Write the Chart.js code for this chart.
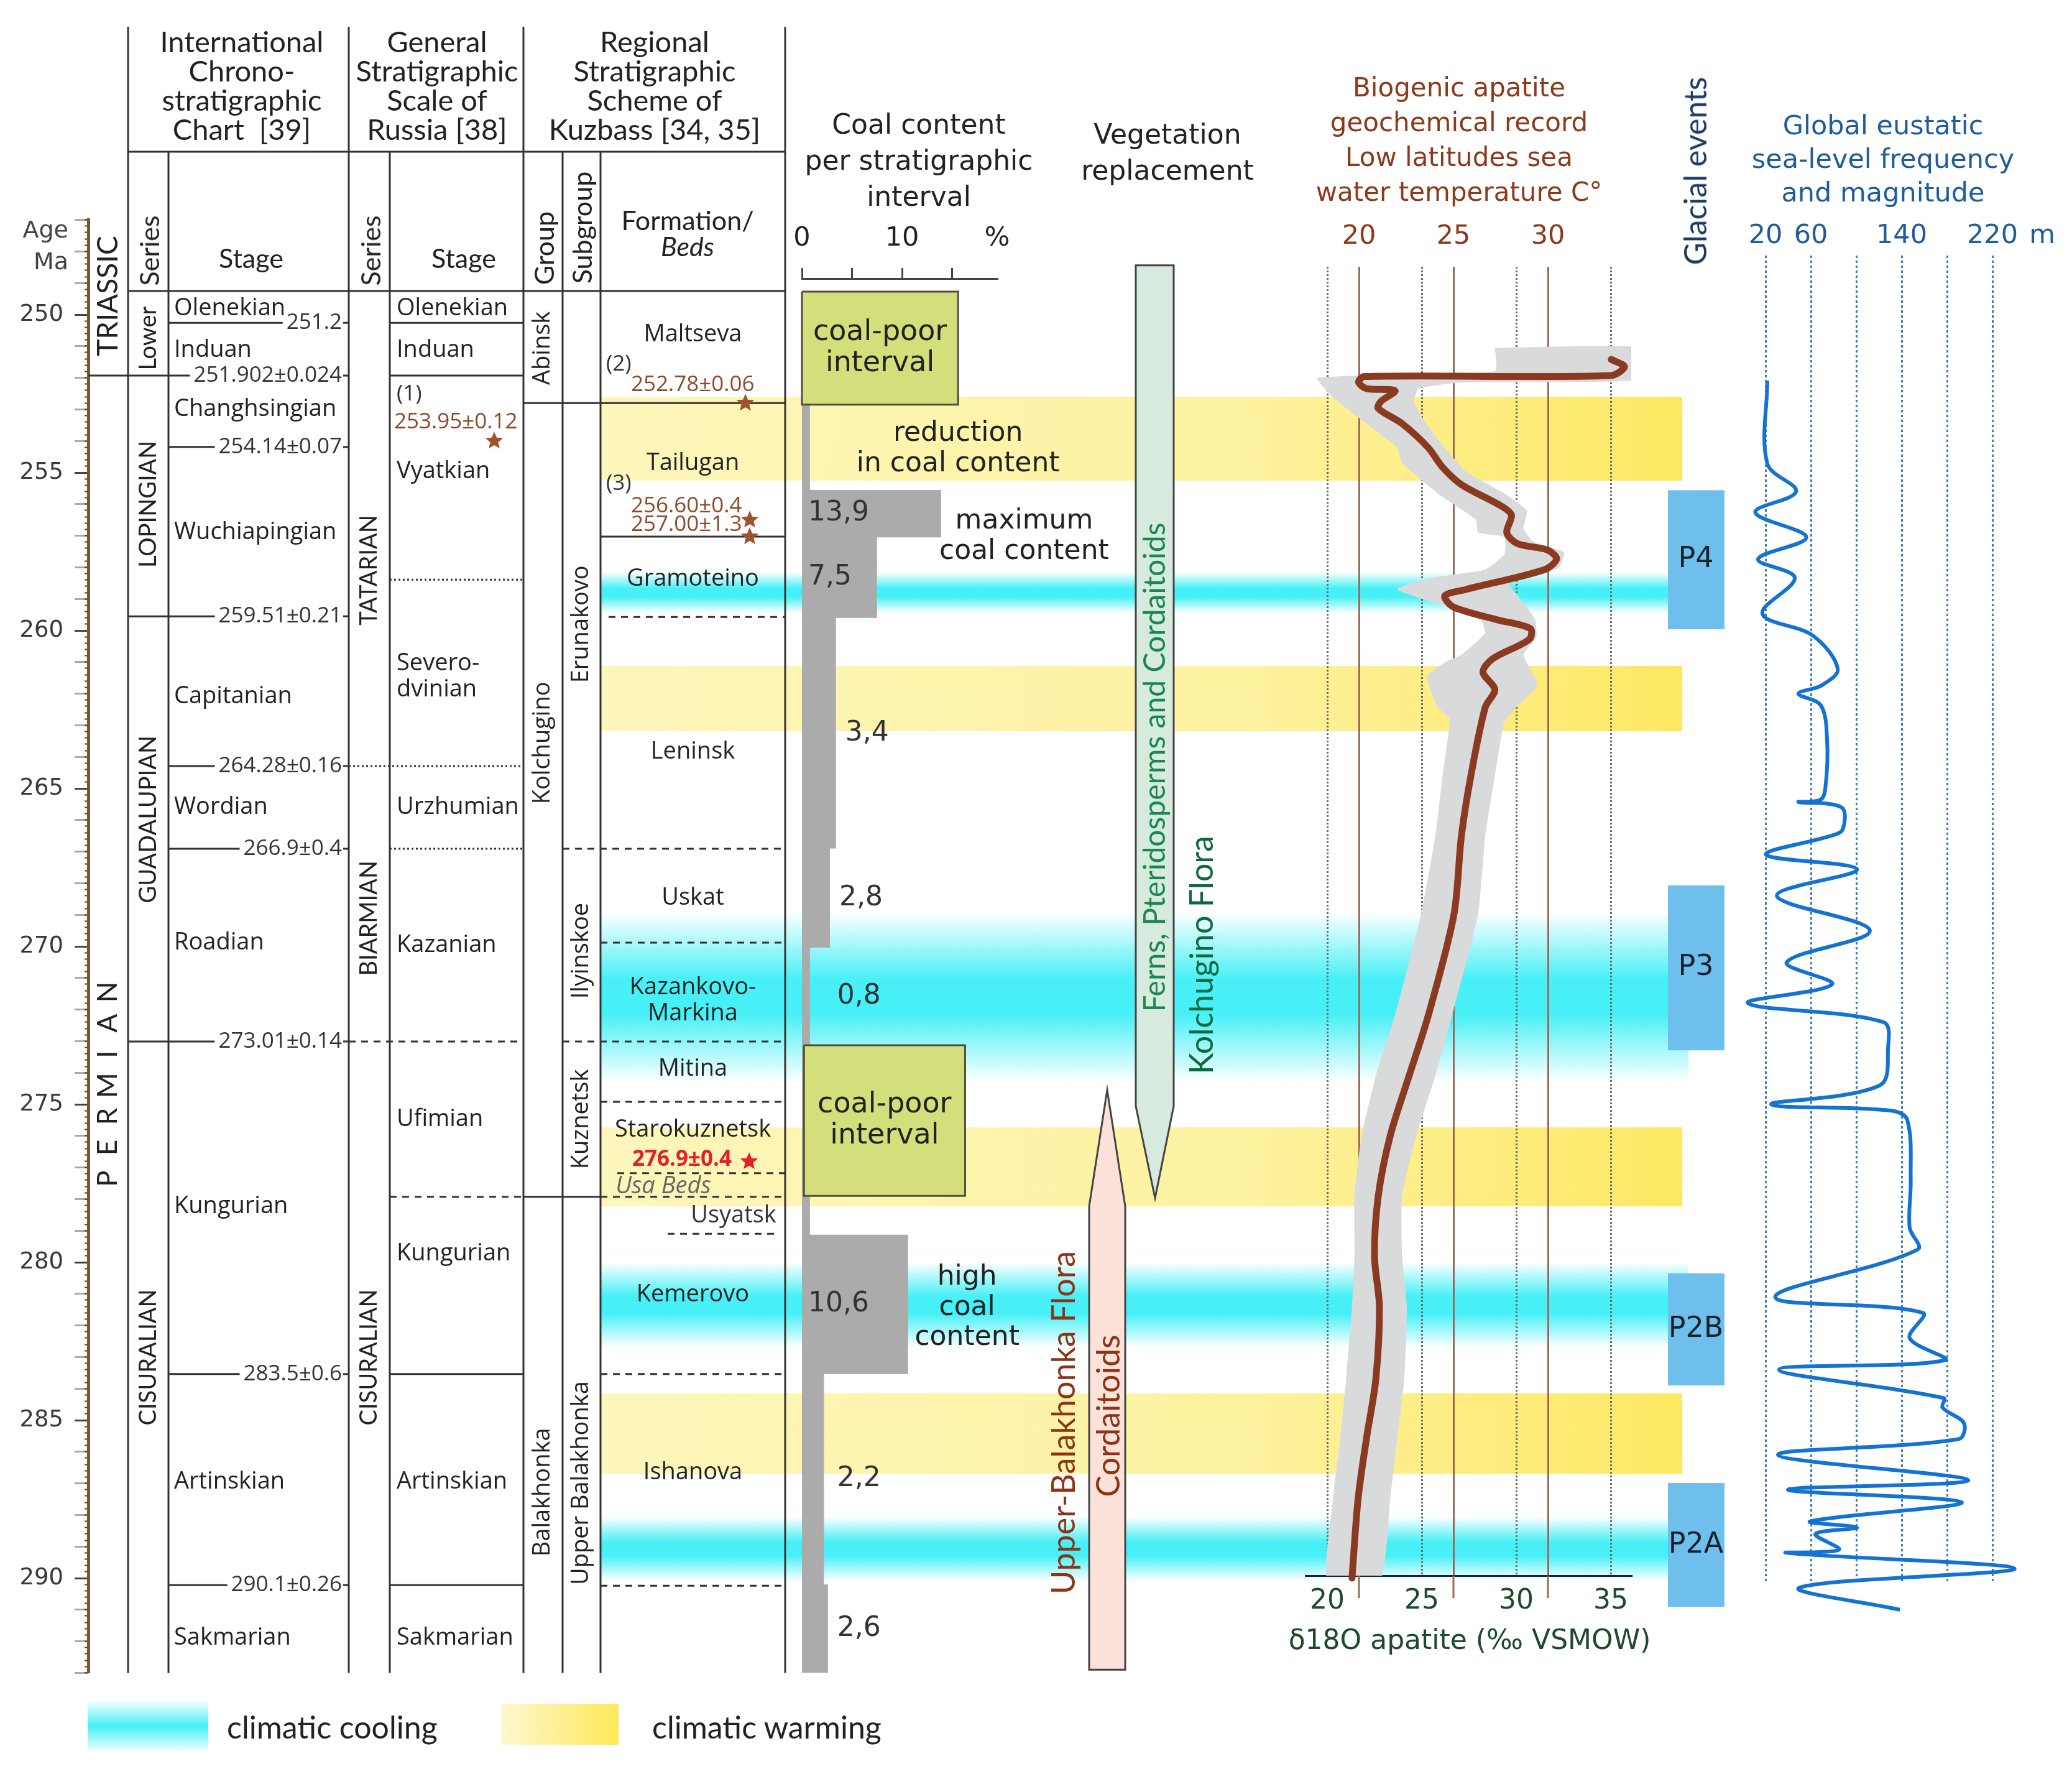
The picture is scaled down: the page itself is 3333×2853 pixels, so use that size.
<!DOCTYPE html>
<html>
<head>
<meta charset="utf-8">
<title>Permian of Kuzbass: stratigraphy, coal, climate</title>
<script src="https://cdn.jsdelivr.net/npm/chart.js@4.4.1/dist/chart.umd.min.js"></script>
<style>
html,body{margin:0;padding:0;background:#fff}
#page{position:relative;width:3333px;height:2853px;overflow:hidden;background:#fff}
#page canvas{position:absolute;left:0;top:0}
.t{position:absolute;white-space:nowrap;transform:translate(-50%,-50%);text-align:center;color:#222}
.rot{transform:translate(-50%,-50%) rotate(-90deg)}
.r{transform:translate(-100%,-50%);text-align:right}
.l{transform:translate(0,-50%);text-align:left}
.hd{font:47px/47px Lato}
.sh{font:43px/42px Lato}
.geo{font:44px/58px 'DejaVu Sans'}
.bio{font:42px/56px 'DejaVu Sans';color:#8b3a1c}
.sea{font:43px/54px 'DejaVu Sans';color:#1f5c9a}
.iso{font:44px 'DejaVu Sans';color:#1d4a2a}
.ax{font:38px 'DejaVu Sans';color:#444}
.gl{font:50px Lato;color:#1b3b66}
.leg{font:50px Lato;color:#222}
.box{position:absolute}
</style>
</head>
<body>
<div id="page">
  <canvas id="bgC" width="3333" height="2853"></canvas>
  <canvas id="coalC" width="3333" height="2853"></canvas>
  <canvas id="isoC" width="3333" height="2853"></canvas>
  <canvas id="seaC" width="3333" height="2853"></canvas>
</div>
<script>
/* ===== data (ages in Ma) ===== */
const intlStage   = ['Olenekian','Induan','Changhsingian','Wuchiapingian','Capitanian','Wordian','Roadian','Kungurian','Artinskian','Sakmarian'];
const intlStageAt = [249.8, 251.12, 252.99, 256.89, 262.09, 265.59, 269.88, 278.23, 286.95, 291.89];
const intlBound    = [250.26, 251.93, 254.19, 259.55, 264.29, 266.91, 273.01, 283.54, 290.22];
const intlBoundLbl = ['251.2','251.902±0.024','254.14±0.07','259.51±0.21','264.28±0.16','266.9±0.4','273.01±0.14','283.5±0.6','290.1±0.26'];
const intlSeries   = ['Lower','LOPINGIAN','GUADALUPIAN','CISURALIAN'];
const intlSeriesAt = [250.75, 256.0, 265.98, 283.01];
const seriesBound  = [251.93, 259.55, 273.01];
const systemName = ['TRIASSIC','PERMIAN'];
const systemAt   = [249.41, 274.4];
const systemBound = 251.93;

const rusStage   = ['Olenekian','Induan','Vyatkian','Severo-|dvinian','Urzhumian','Kazanian','Ufimian','Kungurian','Artinskian','Sakmarian'];
const rusStageAt = [249.8, 251.12, 254.96, 261.46, 265.59, 269.96, 275.47, 279.72, 286.95, 291.89];
const rusBound      = [250.26, 251.93, 258.39, 264.29, 266.91, 273.01, 277.93, 283.54, 290.22];
const rusBoundStyle = ['solid','solid','dot','dot','dot','dash','dash','solid','solid'];
const rusSeries   = ['TATARIAN','BIARMIAN','CISURALIAN'];
const rusSeriesAt = [258.09, 269.11, 283.01];
const rusSeriesBound = [264.29, 273.01];

const groupName  = ['Abinsk','Kolchugino','Balakhonka'];
const groupAt    = [251.06, 263.56, 287.28];
const groupBound = [252.8, 277.93];
const subgroupName = ['Erunakovo','Ilyinskoe','Kuznetsk','Upper Balakhonka'];
const subgroupAt   = [259.8, 270.14, 275.47, 286.99];
const formationName = ['Maltseva','Tailugan','Gramoteino','Leninsk','Uskat','Kazankovo-|Markina','Mitina','Starokuznetsk','Kemerovo','Ishanova'];
const formationAt   = [250.63, 254.7, 258.37, 263.84, 268.46, 271.71, 273.88, 275.81, 281.02, 286.65];
const formBound = [252.8, 257.03, 259.57, 266.91, 269.88, 273.01, 274.92, 277.18, 277.93, 279.1, 283.54, 290.24];
const bedName = ['Usa Beds','Usyatsk'];
const bedAt   = [277.6, 278.52];

const datedLabel  = ['253.95±0.12','252.78±0.06','256.60±0.4','257.00±1.3','276.9±0.4'];
const datedAt     = [253.41, 252.22, 256.06, 256.65, 276.75];
const datedStarAt = [254.0, 252.8, 256.5, 257.03, 276.81];
const sampleRef   = ['(1)','(2)','(3)'];
const sampleRefAt = [252.52, 251.57, 255.35];

const warmBands = [[252.6,255.26],[261.12,263.19],[275.73,278.23],[284.15,286.7]];
const coolBands = [[258.15,259.45],[268.9,274.3],[280.0,282.7],[288.05,290.1]];

const coalTop   = [252.85, 255.55, 257.05, 259.6, 266.9, 270.04, 273.13, 279.13, 283.54, 290.2];
const coalBase  = [255.55, 257.05, 259.6, 266.9, 270.04, 273.13, 279.13, 283.54, 290.2, 293.0];
const coalPct   = [0.8, 13.9, 7.5, 3.4, 2.8, 0.8, 0.8, 10.6, 2.2, 2.6];
const coalLabel = ['', '13,9', '7,5', '3,4', '2,8', '0,8', '', '10,6', '2,2', '2,6'];
const coalPoorTop  = [249.27, 273.13];
const coalPoorBase = [252.85, 277.9];

const floraName = ['Kolchugino Flora', 'Upper-Balakhonka Flora'];
const floraFrom = [248.44, 292.9];
const floraTo   = [277.97, 274.55];

const glacialName = ['P4','P3','P2B','P2A'];
const glacialTop  = [255.56, 268.07, 280.35, 286.99];
const glacialBase = [259.96, 273.29, 283.9, 290.91];

// d18O apatite (permil VSMOW), centre line
const isoD   = [35.03,35.73,35.0,21.94,21.66,22.07,23.58,22.82,22.7,23.96,25.34,26.1,27.1,29.24,29.75,29.5,30.06,31.64,32.14,31.51,27.35,26.22,26.66,28.99,30.75,30.69,28.74,28.24,28.87,28.36,27.6,27.1,26.7,25.34,24.33,23.33,22.7,22.5,22.76,22.57,22.07,21.63,21.31];
const isoAge = [251.42,251.65,251.93,251.96,252.14,252.34,252.41,252.76,252.97,253.45,254.21,254.83,255.38,256.07,256.35,256.9,257.25,257.45,257.73,258.07,258.7,258.9,259.25,259.66,259.94,260.28,260.9,261.32,261.87,262.43,264.6,266.5,269.0,272.2,274.1,276.0,277.9,279.8,281.4,283.7,285.6,287.5,290.0];
// grey envelope, closed outline
const envD   = [28.87,36.99,36.99,27.1,24.84,24.59,25.09,26.1,27.35,29.37,30.57,30.38,30.88,32.52,32.26,29.62,30.38,31.0,31.07,30.38,31.13,30.0,29.37,28.87,28.36,27.98,26.6,25.72,24.71,23.96,23.96,24.21,24.08,23.7,23.33,22.82,
                19.99,20.3,20.68,21.0,21.31,21.44,21.44,21.82,22.57,23.58,24.96,25.72,26.1,26.47,25.84,25.28,26.35,27.1,28.36,28.11,26.35,23.7,25.34,28.36,29.37,29.37,27.98,27.86,25.84,23.96,23.7,22.07,20.3,19.49,28.87,28.87];
const envAge = [251.05,251.05,252.04,252.15,252.34,252.76,253.31,254.14,254.97,255.66,256.21,256.76,257.18,257.52,258.01,258.49,259.11,259.66,260.21,260.77,261.73,262.43,262.9,264.6,266.5,269.0,272.2,274.1,276.0,277.9,279.8,281.4,283.7,285.6,287.5,290.05,
                290.05,287.5,285.6,283.7,281.4,279.8,277.9,276.0,274.1,272.2,269.0,266.5,264.6,262.8,262.43,261.46,260.97,260.77,260.08,259.66,259.25,258.7,258.35,258.07,257.59,257.04,256.9,256.49,255.66,254.69,254.21,253.45,252.62,252.0,251.79,251.05];
const isoTicks  = [20, 25, 30, 35];
const tempTicks = [20, 25, 30];

// global eustatic sea level (m)
const seaM   = [21.6,21.6,47,11,56,13.4,45.8,17.3,61.7,83.7,68.8,49,68.8,74.3,73,68.8,49,87,88,77.6,20.5,100.7,30,112,38.7,78.7,4.6,124,128,120.7,25,131,145,148,147,154,28.6,158.6,147,178,32,177,176,195,190,31,198.7,39.8,193,59.5,100.7,64,84.8,38.7,239.5,50,138.5];
const seaAge = [252.09,254.72,255.6,256.26,257.05,257.74,258.33,259.47,260.16,261.22,261.75,262.0,262.37,263.5,264.9,265.35,265.43,265.6,266.3,266.5,267.1,267.56,268.4,269.5,270.5,271.2,271.8,272.4,273.2,274.4,275.0,275.2,275.5,277.4,278.9,279.6,281.1,281.6,282.4,283.1,283.4,284.3,284.6,285.1,285.6,286.1,286.9,287.2,287.6,288.2,288.4,288.6,289.1,289.2,289.7,290.3,291.0];
const seaTicks = [20, 60, 100, 140, 180, 220];
const seaTickLbl = ['20','60','','140','','220'];

/* ===== layout ===== */
const W = 3333, H = 2853;
const PX250 = 506, PX_PER_MA = 50.8;
const pxAt = a => PX250 + (a - 250) * PX_PER_MA;
const ageAtPx = px => 250 + (px - PX250) / PX_PER_MA;
const AGE_TOP = 249.25, AGE_BASE = 293.0;
const X = {A:142, B:206, C:271, D:561, E:627, F:842, G:905, H:966, I:1263};
const HEAD_TOP = 43, HEAD_MID = 244;
const FONT_BODY = '38px "Open Sans"', FONT_NUM = '35px "Open Sans"', FONT_CAPS = '38px Lato';
const $ = s => document.querySelector(s);

function seg(ctx,x1,y1,x2,y2,style,color,w){
  ctx.save(); ctx.strokeStyle=color||'#333'; ctx.lineWidth=w||3;
  ctx.setLineDash(style==='dash'?[11,9]:style==='dot'?[3,4]:[]);
  ctx.beginPath(); ctx.moveTo(x1,y1); ctx.lineTo(x2,y2); ctx.stroke(); ctx.restore();
}
function txt(ctx,s,x,y,font,color,align){
  ctx.save(); ctx.font=font; ctx.fillStyle=color||'#222'; ctx.textAlign=align||'center'; ctx.textBaseline='middle';
  const parts=s.split('|'), lh=parseFloat(font.match(/(\d+(\.\d+)?)px/)[1])*1.1;
  parts.forEach((p,i)=>ctx.fillText(p,x,y+(i-(parts.length-1)/2)*lh));
  ctx.restore();
}
function vtxt(ctx,s,x,y,font,color){ ctx.save(); ctx.translate(x,y); ctx.rotate(-Math.PI/2); txt(ctx,s,0,0,font,color); ctx.restore(); }
function star(ctx,x,y,r,color){
  ctx.save(); ctx.beginPath();
  for(let i=0;i<10;i++){ const a=-Math.PI/2+i*Math.PI/5, rr=i%2?r*0.45:r; ctx.lineTo(x+rr*Math.cos(a), y+rr*Math.sin(a)); }
  ctx.closePath(); ctx.fillStyle=color; ctx.fill(); ctx.restore();
}

/* ===== background: columns, climate bands, vegetation, glacial events ===== */
const stratPlugin = { id:'strat', afterDraw(chart){
  const ctx=chart.ctx, Y=a=>chart.scales.y.getPixelForValue(a);
  const yTop=Y(AGE_TOP), yBase=Y(AGE_BASE);

  // climate bands
  warmBands.forEach(([a,b])=>{
    const g=ctx.createLinearGradient(X.H,0,2706,0);
    g.addColorStop(0,'#fdf6bb'); g.addColorStop(0.6,'#fdf29f'); g.addColorStop(1,'#fde862');
    ctx.fillStyle=g; ctx.fillRect(X.H,Y(a),2706-X.H,Y(b)-Y(a));
  });
  coolBands.forEach(([a,b])=>{
    const y0=Y(a), y1=Y(b), g=ctx.createLinearGradient(0,y0,0,y1);
    g.addColorStop(0,'rgba(70,240,246,0)'); g.addColorStop(0.4,'rgba(70,240,246,1)');
    g.addColorStop(0.6,'rgba(70,240,246,1)'); g.addColorStop(1,'rgba(70,240,246,0)');
    ctx.fillStyle=g; ctx.fillRect(X.H,y0,2716-X.H,y1-y0);
  });

  // frame of the columns
  [X.B,X.D,X.F,X.I].forEach(x=>seg(ctx,x,HEAD_TOP,x,yBase));
  [X.C,X.E,X.G,X.H].forEach(x=>seg(ctx,x,HEAD_MID,x,yBase));
  seg(ctx,X.B,HEAD_MID,X.I,HEAD_MID); seg(ctx,X.B,yTop,X.I,yTop);

  // international chart
  intlBound.forEach((a,i)=>{
    const y=Y(a), x0 = a===systemBound ? X.A : seriesBound.includes(a) ? X.B : X.C;
    ctx.font=FONT_NUM; const w=ctx.measureText(intlBoundLbl[i]).width, xr=X.D-11;
    seg(ctx,x0,y,xr-w-6,y); txt(ctx,intlBoundLbl[i],xr,y,FONT_NUM,'#333','right'); seg(ctx,xr+2,y,X.D,y);
  });
  intlStage.forEach((s,i)=>txt(ctx,s,X.C+9,Y(intlStageAt[i]),FONT_BODY,'#222','left'));
  intlSeries.forEach((s,i)=>vtxt(ctx,s,(X.B+X.C)/2,Y(intlSeriesAt[i]),FONT_CAPS,'#222'));
  vtxt(ctx,systemName[0],(X.A+X.B)/2,Y(systemAt[0]),'46px Lato','#222');
  const pm=systemName[1], yc=Y(systemAt[1]);
  for(let i=0;i<pm.length;i++) vtxt(ctx,pm[i],(X.A+X.B)/2,yc+(3-i)*50,'44px Lato','#222');

  // general scale of Russia
  rusBound.forEach((a,i)=>{ const x0=rusSeriesBound.includes(a)?X.D:X.E; seg(ctx,x0,Y(a),X.F,Y(a),rusBoundStyle[i]); });
  rusStage.forEach((s,i)=>txt(ctx,s,X.E+11,Y(rusStageAt[i]),FONT_BODY,'#222','left'));
  rusSeries.forEach((s,i)=>vtxt(ctx,s,(X.D+X.E)/2,Y(rusSeriesAt[i]),FONT_CAPS,'#222'));

  // regional scheme of Kuzbass
  groupBound.forEach(a=>seg(ctx,X.F,Y(a),X.H,Y(a)));
  const formLine=[[X.H,X.I,'solid'],[X.H,X.I,'solid'],[X.H+13,X.I,'dash'],[X.G,X.I,'dash'],[X.H,X.I,'dash'],[X.G,X.I,'dash'],
                  [X.H,X.I,'dash'],[993,X.I,'dash'],[X.H,X.I,'dash'],[1074,1250,'dash'],[X.H,X.I,'dash'],[X.H,X.I,'dash']];
  formBound.forEach((a,i)=>seg(ctx,formLine[i][0],Y(a),formLine[i][1],Y(a),formLine[i][2]));
  groupName.forEach((s,i)=>vtxt(ctx,s,(X.F+X.G)/2,Y(groupAt[i]),FONT_BODY,'#222'));
  subgroupName.forEach((s,i)=>vtxt(ctx,s,(X.G+X.H)/2,Y(subgroupAt[i]),FONT_BODY,'#222'));
  formationName.forEach((s,i)=>txt(ctx,s,(X.H+X.I)/2,Y(formationAt[i]),FONT_BODY,'#222'));
  txt(ctx,bedName[0],1067,Y(bedAt[0]),'italic 38px "Open Sans"','#666');
  txt(ctx,bedName[1],1180,Y(bedAt[1]),FONT_BODY,'#333');

  // radiometric dates
  const lblX=[634,1015,1015,1015,1017], starX=[795,1199,1206,1206,1205], refX=[638,975,975];
  sampleRef.forEach((s,i)=>txt(ctx,s,refX[i],Y(sampleRefAt[i]),FONT_NUM,'#333','left'));
  datedLabel.forEach((s,i)=>{
    const last=i===datedLabel.length-1;
    txt(ctx,s,lblX[i],Y(datedAt[i]),last?'bold 35px "Open Sans"':FONT_NUM,last?'#e2202a':'#8b4a2b','left');
    star(ctx,starX[i],Y(datedStarAt[i]),15,last?'#e2202a':'#a0522d');
  });

  // vegetation replacement arrows
  const arrow=(x0,x1,xt,yS,yH,yT,fill)=>{
    ctx.save(); ctx.beginPath(); ctx.moveTo(x0,yS); ctx.lineTo(x1,yS); ctx.lineTo(x1,yH); ctx.lineTo(xt,yT); ctx.lineTo(x0,yH); ctx.closePath();
    ctx.fillStyle=fill; ctx.fill(); ctx.strokeStyle='#444'; ctx.lineWidth=3; ctx.stroke(); ctx.restore();
  };
  arrow(1827,1888,1858,Y(floraFrom[0]),Y(floraTo[0])-148,Y(floraTo[0]),'#d6ebdd');
  arrow(1752,1810,1781,Y(floraFrom[1]),Y(floraTo[1])+187,Y(floraTo[1]),'#fde2da');
  vtxt(ctx,'Ferns, Pteridosperms and Cordaitoids',1859,1234,'48px Lato','#1b8650');
  vtxt(ctx,floraName[0],1934,Y(ageAtPx(1536)),'52px Lato','#0c6a3c');
  vtxt(ctx,floraName[1],1712,Y(ageAtPx(2288)),'52px Lato','#8b3418');
  vtxt(ctx,'Cordaitoids',1784,Y(ageAtPx(2277)),'52px Lato','#8b3418');

  // glacial events
  glacialName.forEach((s,i)=>{
    const y0=Y(glacialTop[i]), y1=Y(glacialBase[i]);
    ctx.fillStyle='#6fbfec'; ctx.fillRect(2683,y0,91,y1-y0);
    txt(ctx,s,2728,(y0+y1)/2,'46px "DejaVu Sans"','#18222c');
  });
}};

new Chart($('#bgC'),{
  type:'scatter', data:{datasets:[]},
  options:{
    responsive:false, animation:false, devicePixelRatio:1,
    layout:{padding:{left:0,right:0,top:pxAt(247),bottom:H-pxAt(AGE_BASE)}},
    plugins:{legend:{display:false},tooltip:{enabled:false}},
    scales:{
      x:{type:'linear',display:false,min:0,max:1},
      y:{type:'linear',reverse:true,min:247,max:AGE_BASE,position:'left',weight:1,
         afterFit:s=>{s.width=X.A;},
         afterBuildTicks:s=>{s.ticks=[]; for(let a=247;a<=293;a++) s.ticks.push({value:a});},
         ticks:{autoSkip:false,padding:18,color:'#3a3a3a',font:{family:'DejaVu Sans',size:37},callback:v=>v%5===0?v:''},
         grid:{drawOnChartArea:false,tickLength:22,tickWidth:3,tickColor:c=>c.tick&&c.tick.value%5===0?'#444':'#aaa'},
         border:{color:'#7b5634',width:5}},
      y2:{type:'linear',reverse:true,min:247,max:AGE_BASE,position:'left',weight:0,
         afterFit:s=>{s.width=0;},
         afterBuildTicks:s=>{s.ticks=[]; for(let i=0;i<=230;i++) s.ticks.push({value:247+i*0.2});},
         ticks:{display:false,autoSkip:false},
         grid:{drawOnChartArea:false,tickLength:6,tickWidth:2,tickColor:'#4a3626'},
         border:{display:false}}
    }
  },
  plugins:[stratPlugin]
});

/* ===== coal content ===== */
const COAL_X0=1290, COAL_PX=16.1, COAL_MAX=19.6, COAL_AX_Y=448;
const coalShape=[{x:0,y:coalTop[0]}];
coalPct.forEach((v,i)=>{ coalShape.push({x:v,y:coalTop[i]},{x:v,y:coalBase[i]}); });
coalShape.push({x:0,y:coalBase[coalBase.length-1]},{x:0,y:coalTop[0]});
const boxX=[[0,15.6],[0.2,16.3]];
const poorSets=coalPoorTop.map((t,i)=>({
  data:[{x:boxX[i][0],y:t},{x:boxX[i][1],y:t},{x:boxX[i][1],y:coalPoorBase[i]},{x:boxX[i][0],y:coalPoorBase[i]},{x:boxX[i][0],y:t}],
  showLine:true,fill:'shape',backgroundColor:'#d4df7c',borderColor:'#4d5040',borderWidth:3,pointRadius:0,tension:0,clip:false,order:1
}));
const coalNotes=[['reduction|in coal content',15.6,254.25],['maximum|coal content',22.2,257.03],['high|coal|content',16.5,281.44]];
const coalLabelPlugin={id:'coalLabels',afterDatasetsDraw(chart){
  const ctx=chart.ctx, x=chart.scales.x, y=chart.scales.y, f='44px "DejaVu Sans"';
  coalLabel.forEach((s,i)=>{
    if(!s) return;
    const yy=y.getPixelForValue((coalTop[i]+coalBase[i])/2);
    const xx=coalPct[i]>5 ? x.getPixelForValue(0)+10 : Math.max(x.getPixelForValue(coalPct[i]),x.getPixelForValue(2.6))+15;
    txt(ctx,s,xx,yy,f,'#333','left');
  });
  coalNotes.forEach(([s,v,a])=>txt(ctx,s,x.getPixelForValue(v),y.getPixelForValue(a),f,'#222'));
  coalPoorTop.forEach((t,i)=>txt(ctx,'coal-poor|interval',x.getPixelForValue((boxX[i][0]+boxX[i][1])/2),y.getPixelForValue((t+coalPoorBase[i])/2),'46px "DejaVu Sans"','#222'));
}};
new Chart($('#coalC'),{
  type:'scatter',
  data:{datasets:[
    {data:coalShape,showLine:true,fill:'shape',backgroundColor:'#ababab',borderColor:'rgba(0,0,0,0)',borderWidth:0,pointRadius:0,tension:0,order:2},
    ...poorSets
  ]},
  options:{
    responsive:false, animation:false, devicePixelRatio:1,
    layout:{padding:{left:COAL_X0,right:W-(COAL_X0+COAL_MAX*COAL_PX),top:COAL_AX_Y-100,bottom:H-pxAt(AGE_BASE)}},
    plugins:{legend:{display:false},tooltip:{enabled:false}},
    scales:{
      x:{type:'linear',position:'top',min:0,max:COAL_MAX,afterFit:s=>{s.height=100;},
         afterBuildTicks:s=>{s.ticks=[0,5,10,15,19.5].map(v=>({value:v}));},
         ticks:{autoSkip:false,maxRotation:0,padding:21,color:'#222',font:{family:'DejaVu Sans',size:43},
                callback:v=>v===0?'0':v===10?'10':v===19.5?'%':''},
         grid:{drawOnChartArea:false,tickLength:17,tickWidth:3,tickColor:c=>c.tick&&c.tick.value>19?'rgba(0,0,0,0)':'#444'},
         border:{color:'#444',width:3}},
      y:{type:'linear',reverse:true,min:ageAtPx(COAL_AX_Y),max:AGE_BASE,display:false}
    }
  },
  plugins:[coalLabelPlugin]
});

/* ===== d18O apatite / sea-water temperature ===== */
const ISO_L=2100, ISO_R=2624, ISO_20=2135, ISO_PX=30.4, ISO_T=429, ISO_B=2534, TEMP_SHIFT=1.678;
const isoMin=20+(ISO_L-ISO_20)/ISO_PX, isoMax=20+(ISO_R-ISO_20)/ISO_PX;
// temperature lines run a little past the d18O axis
const tempLineTail={id:'tempTail',afterDatasetsDraw(chart){
  const ctx=chart.ctx, s=chart.scales.xt, b=chart.chartArea.bottom;
  ctx.save(); ctx.strokeStyle='#9c6a57'; ctx.lineWidth=3;
  tempTicks.forEach(v=>{ const x=s.getPixelForValue(v); ctx.beginPath(); ctx.moveTo(x,b); ctx.lineTo(x,b+36); ctx.stroke(); });
  ctx.restore();
}};
new Chart($('#isoC'),{
  type:'scatter',
  data:{datasets:[
    {data:envD.map((d,i)=>({x:d,y:envAge[i]})),showLine:true,fill:'shape',backgroundColor:'#d9dadb',borderColor:'rgba(0,0,0,0)',borderWidth:0,pointRadius:0,tension:0.15,capBezierPoints:false,clip:false,order:2},
    {data:isoD.map((d,i)=>({x:d,y:isoAge[i]})),showLine:true,fill:false,borderColor:'#8b3a22',borderWidth:11,pointRadius:0,tension:0.3,capBezierPoints:false,clip:false,borderCapStyle:'round',borderJoinStyle:'round',order:1}
  ]},
  options:{
    responsive:false, animation:false, devicePixelRatio:1,
    layout:{padding:{left:ISO_L,right:W-ISO_R,top:ISO_T-70,bottom:H-ISO_B-70}},
    plugins:{legend:{display:false},tooltip:{enabled:false}},
    scales:{
      x:{type:'linear',position:'bottom',min:isoMin,max:isoMax,afterFit:s=>{s.height=70;},
         afterBuildTicks:s=>{s.ticks=isoTicks.map(v=>({value:v}));},
         ticks:{autoSkip:false,maxRotation:0,padding:15,color:'#1d4a2a',font:{family:'DejaVu Sans',size:44}},
         grid:{drawTicks:false,color:'#6c6c6c',lineWidth:3},
         border:{display:true,color:'#222',width:3,dash:[3,3]}},
      xt:{type:'linear',position:'top',min:isoMin-TEMP_SHIFT,max:isoMax-TEMP_SHIFT,afterFit:s=>{s.height=70;},
         afterBuildTicks:s=>{s.ticks=tempTicks.map(v=>({value:v}));},
         ticks:{autoSkip:false,maxRotation:0,padding:22,color:'#8b3a1c',font:{family:'DejaVu Sans',size:43}},
         grid:{drawTicks:false,color:'#9c6a57',lineWidth:3},
         border:{display:false}},
      y:{type:'linear',reverse:true,min:ageAtPx(ISO_T),max:ageAtPx(ISO_B),display:false}
    }
  },
  plugins:[tempLineTail]
});

/* ===== global eustatic sea level ===== */
const SEA_L=2790, SEA_R=3300, SEA_20=2840, SEA_PX=1.825, SEA_T=411, SEA_B=2546;
new Chart($('#seaC'),{
  type:'scatter',
  data:{datasets:[
    {data:seaM.map((m,i)=>({x:m,y:seaAge[i]})),showLine:true,fill:false,borderColor:'#1372d2',borderWidth:6,pointRadius:0,tension:0.35,capBezierPoints:false,clip:false}
  ]},
  options:{
    responsive:false, animation:false, devicePixelRatio:1,
    layout:{padding:{left:SEA_L,right:W-SEA_R,top:SEA_T-70,bottom:H-SEA_B}},
    plugins:{legend:{display:false},tooltip:{enabled:false}},
    scales:{
      x:{type:'linear',position:'top',min:20-(SEA_20-SEA_L)/SEA_PX,max:20+(SEA_R-SEA_20)/SEA_PX,afterFit:s=>{s.height=70;},
         afterBuildTicks:s=>{s.ticks=seaTicks.concat([264]).map(v=>({value:v}));},
         ticks:{autoSkip:false,maxRotation:0,padding:5,color:'#1f5c9a',font:{family:'DejaVu Sans',size:43},
                callback:(v,i)=>i<seaTickLbl.length?seaTickLbl[i]:'m'},
         grid:{drawTicks:false,lineWidth:3,color:c=>c.tick&&c.tick.value>250?'rgba(0,0,0,0)':'#3d7db5'},
         border:{display:false,dash:[4,4]}},
      y:{type:'linear',reverse:true,min:ageAtPx(SEA_T),max:ageAtPx(SEA_B),display:false}
    }
  }
});

/* ===== headings and legend ===== */
const page=$('#page');
function addText(html,x,y,cls){ const d=document.createElement('div'); d.className='t '+cls; d.innerHTML=html; d.style.left=x+'px'; d.style.top=y+'px'; page.appendChild(d); return d; }
function addBox(x,y,w,h,bg){ const d=document.createElement('div'); d.className='box'; Object.assign(d.style,{left:x+'px',top:y+'px',width:w+'px',height:h+'px',background:bg}); page.appendChild(d); }
addText('International<br>Chrono-<br>stratigraphic<br>Chart&nbsp; [39]',389,137,'hd');
addText('General<br>Stratigraphic<br>Scale of<br>Russia [38]',703,137,'hd');
addText('Regional<br>Stratigraphic<br>Scheme of<br>Kuzbass [34, 35]',1053,137,'hd');
addText('Series',240,403,'sh rot'); addText('Stage',404,415,'sh');
addText('Series',596,403,'sh rot'); addText('Stage',746,415,'sh');
addText('Group',875,399,'sh rot'); addText('Subgroup',936,366,'sh rot');
addText('Formation/<br><i>Beds</i>',1106,375,'sh');
addText('Age',110,369,'ax r'); addText('Ma',110,420,'ax r');
addText('Coal content<br>per stratigraphic<br>interval',1478,258,'geo');
addText('Vegetation<br>replacement',1878,245,'geo');
addText('Biogenic apatite<br>geochemical record<br>Low latitudes sea<br>water temperature C°',2347,225,'bio');
addText('δ18O apatite (‰ VSMOW)',2364,2636,'iso');
addText('Glacial events',2726,275,'gl rot');
addText('Global eustatic<br>sea-level frequency<br>and magnitude',3029,255,'sea');
addBox(141,2733,194,86,'linear-gradient(to bottom,rgba(70,240,246,0),rgb(70,240,246) 50%,rgba(70,240,246,0))');
addText('climatic cooling',365,2777,'leg l');
addBox(806,2740,189,66,'linear-gradient(to right,#fdf8d0,#fde958)');
addText('climatic warming',1049,2777,'leg l');
</script>
</body>
</html>
